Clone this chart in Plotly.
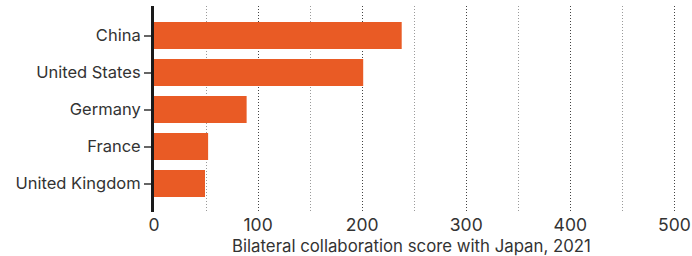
import plotly.graph_objects as go

countries = ["United Kingdom", "France", "Germany", "United States", "China"]
scores = [49, 52, 89, 201, 238]
x_ticks = [0, 100, 200, 300, 400, 500]
x_title = "Bilateral collaboration score with Japan, 2021"

W, H = 692, 256
L, R, T, B = 154, 2, 6, 44
FONT = "Inter"
TEXT = "#333333"

fig = go.Figure(
    go.Bar(
        x=scores,
        y=countries,
        orientation="h",
        marker=dict(color="#E95B25", line=dict(width=0)),
        hoverinfo="x+y",
    )
)

fig.update_layout(
    width=W,
    height=H,
    margin=dict(l=L, r=R, t=T, b=B),
    paper_bgcolor="white",
    plot_bgcolor="white",
    bargap=0.27,
    showlegend=False,
    font=dict(family=FONT, color=TEXT),
    annotations=[
        dict(
            text=x_title,
            xref="paper",
            yref="paper",
            x=0.48,
            y=-0.165,
            xanchor="center",
            yanchor="middle",
            showarrow=False,
            font=dict(family=FONT, size=16.8, color=TEXT),
        )
    ],
)

fig.update_xaxes(
    range=[0, 515],
    tickvals=x_ticks,
    ticktext=[str(v) for v in x_ticks],
    tickfont=dict(family=FONT, size=17.5, color=TEXT),
    showline=False,
    zeroline=False,
    ticks="",
    showgrid=True,
    gridcolor="#444444",
    gridwidth=1,
    griddash="1px,2px",
    minor=dict(
        dtick=50,
        tick0=0,
        showgrid=True,
        gridcolor="#9a9a9a",
        gridwidth=1,
        griddash="1px,2px",
    ),
)

fig.update_yaxes(
    type="category",
    categoryorder="array",
    categoryarray=countries,
    range=[-0.77, 4.8],
    showline=True,
    linecolor="#1a1a1a",
    linewidth=3,
    ticks="outside",
    ticklen=7,
    tickwidth=1.5,
    tickcolor="#666666",
    tickfont=dict(family=FONT, size=16.5, color=TEXT),
    showgrid=False,
    zeroline=False,
)

fig.write_html(
    "out.html",
    config={"displayModeBar": False},
    post_script="document.body.style.margin='0';document.body.style.padding='0';",
)
